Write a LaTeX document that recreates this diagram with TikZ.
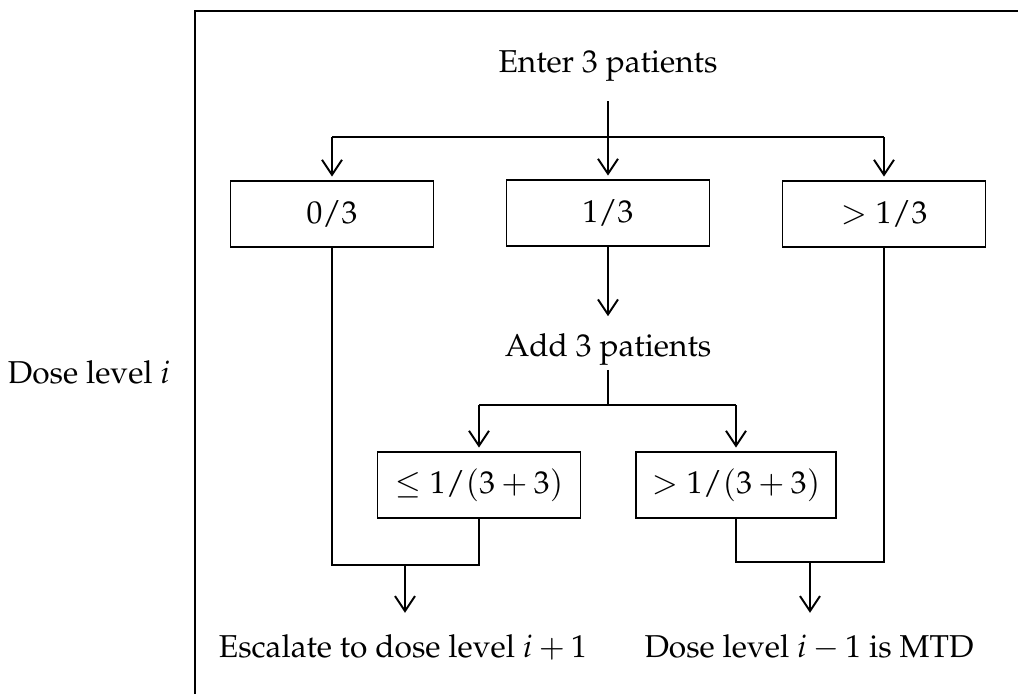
\documentclass[tikz,border=0pt]{standalone}
\usepackage[T1]{fontenc}
\usepackage{mathpazo}
\usetikzlibrary{positioning}
\usetikzlibrary{arrows.meta}
\tikzset{
    plain/.style = {inner sep=0pt, font=\fontsize{18}{22}\selectfont},
    outcome/.style = {draw, line width=1.1pt, inner sep=0pt, minimum width=4.06cm,
        minimum height=1.32cm, font=\fontsize{18}{22}\selectfont},
    flow/.style = {line width=1.1pt},
    arrowed/.style = {flow, -{Straight Barb[length=3mm, width=4mm, line width=1.1pt]}}
}

\begin{document}
\begin{tikzpicture}[x=0.02cm, y=-0.02cm]
  \useasboundingbox (0, 0) rectangle (1018, 694);
  % frame
  \draw [flow] (195, 694) -- (195, 11) -- (1018, 11);
  % nodes
  \node [plain] (enter) at (608, 66) {Enter 3 patients};
  \node [outcome] (zero) at (332, 214) {0/3};
  \node [outcome] (one) at (608, 213) {1/3};
  \node [outcome] (more) at (884, 214) {$>1/3$};
  \node [plain] (add) at (608, 350) {Add 3 patients};
  \node [outcome] (low) at (479, 485) {$\leq 1/(3+3)$};
  \node [outcome, minimum width=4cm] (high) at (736, 485) {$>1/(3+3)$};
  \node [plain] (escalate) at (403, 647) {Escalate to dose level $i+1$};
  \node [plain] (mtd) at (809, 647) {Dose level $i-1$ is MTD};
  \node [plain] (level) at (89, 372) {Dose level $i$};
  \coordinate (split1) at (608, 137);
  \coordinate (split2) at (608, 405);
  \coordinate (join1) at (405, 565);
  \coordinate (join2) at (810, 562);
  % first split
  \draw [arrowed, shorten <=11pt, shorten >=2pt] (enter) -- (one);
  \draw [flow] (split1 -| zero) -- (split1 -| more);
  \draw [arrowed, shorten >=2pt] (split1 -| zero) -- (zero);
  \draw [arrowed, shorten >=2pt] (split1 -| more) -- (more);
  % second split
  \draw [arrowed, shorten >=10pt] (one) -- (add);
  \draw [flow, shorten <=2pt] (add) -- (split2);
  \draw [flow] (split2 -| low) -- (split2 -| high);
  \draw [arrowed, shorten >=2pt] (split2 -| low) -- (low);
  \draw [arrowed, shorten >=2pt] (split2 -| high) -- (high);
  % outcomes
  \draw [flow] (zero) |- (low |- join1) -- (low);
  \draw [flow] (more) |- (high |- join2) -- (high);
  \draw [arrowed, shorten >=12pt] (join1) -- (join1 |- escalate.north);
  \draw [arrowed, shorten >=12pt] (join2) -- (join2 |- mtd.north);
\end{tikzpicture}
\end{document}
